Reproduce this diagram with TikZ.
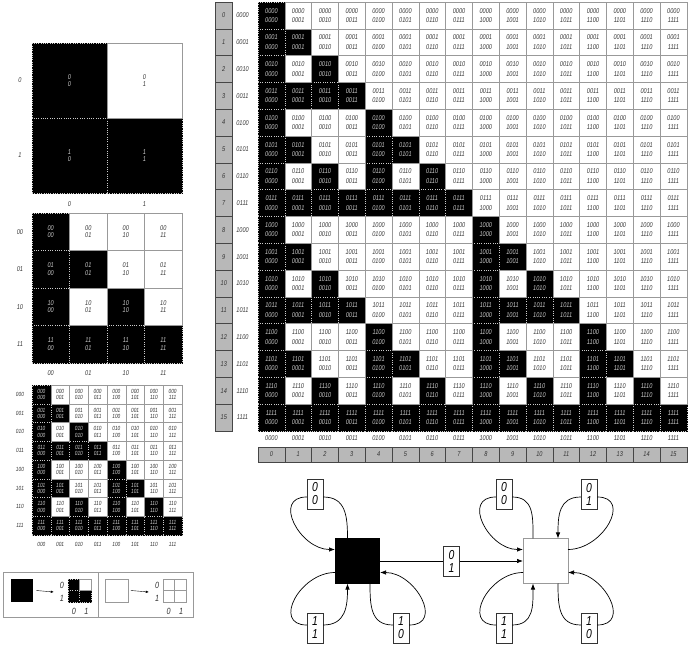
\documentclass[tikz,border=0pt]{standalone}
\usepackage{fontspec}
\setmainfont{Liberation Sans}
\newfontfamily\narrowsf[FakeStretch=0.8]{Liberation Sans}
\usetikzlibrary{calc}
\usetikzlibrary{arrows.meta}
\tikzset{>={Latex[length=6pt,width=4.5pt]}}
\definecolor{ontxt}{gray}{0.8}
\definecolor{offtxt}{gray}{0.2}
\definecolor{cellline}{gray}{0.6}
\definecolor{barfill}{gray}{0.72}
\tikzstyle{cell} = [rectangle, inner sep=0, outer sep=0, align=center]
\tikzstyle{blkcell} = [cell, fill=black, draw=black, postaction={draw=gray!40, dotted, line width=0.3pt}]
\tikzstyle{lbl} = [inner sep=0, text=offtxt]
\tikzstyle{graycell} = [rectangle, inner sep=0, outer sep=0, fill=barfill, draw=gray!55!black, text=offtxt, font=\narrowsf\itshape\fontsize{7}{7}\selectfont]
\tikzstyle{tag} = [rectangle, draw=black!80, fill=white, inner sep=0, minimum width=16pt, minimum height=30pt, align=center, font=\narrowsf\itshape\fontsize{13}{13}\selectfont]
\tikzstyle{state} = [rectangle, minimum size=45pt, inner sep=0, outer sep=0]
\tikzstyle{loop} = [line width=0.7pt]
\tikzstyle{small} = [font=\narrowsf\itshape\fontsize{9}{9}\selectfont, text=offtxt, inner sep=0]

% #1 name, #2 index/bits list, #3 cell size, #4 left, #5 top, #6 font, #7 row label x, #8 column label y
\newcommand{\bitgrid}[8]{
  % black cells first, dotted borders
  \foreach \r/\rs in {#2} {
    \foreach \c/\cs in {#2} {
      \pgfmathtruncatemacro{\isblk}{(mod(\c,2)<=mod(\r,2)) && (mod(floor(\c/2),2)<=mod(floor(\r/2),2)) && (mod(floor(\c/4),2)<=mod(floor(\r/4),2)) && (mod(floor(\c/8),2)<=mod(floor(\r/8),2))}
      \ifnum\isblk=1
        \node [blkcell, text=ontxt, minimum size=#3pt, font=#6] (#1-\r-\c) at ({#4+#3*(\c+0.5)}, {#5-#3*(\r+0.5)}) {\rs\\\cs};
      \fi
    }
  }
  % then white cells
  \foreach \r/\rs in {#2} {
    \foreach \c/\cs in {#2} {
      \pgfmathtruncatemacro{\isblk}{(mod(\c,2)<=mod(\r,2)) && (mod(floor(\c/2),2)<=mod(floor(\r/2),2)) && (mod(floor(\c/4),2)<=mod(floor(\r/4),2)) && (mod(floor(\c/8),2)<=mod(floor(\r/8),2))}
      \ifnum\isblk=0
        \node [cell, fill=white, draw=cellline, text=offtxt, minimum size=#3pt, font=#6] (#1-\r-\c) at ({#4+#3*(\c+0.5)}, {#5-#3*(\r+0.5)}) {\rs\\\cs};
      \fi
    }
  }
  % labels
  \foreach \r/\rs in {#2} {
    \node [lbl, font=#6] (#1-row-\r) at (#7, {#5-#3*(\r+0.5)}) {\rs};
    \node [lbl, font=#6] (#1-col-\r) at ({#4+#3*(\r+0.5)}, #8) {\rs};
  }
}

\begin{document}
\begin{tikzpicture}[x=1pt, y=1pt]
\useasboundingbox (0,0) rectangle (692,647);

% left column: 2x2, 4x4, 8x8
\bitgrid{one}{0/0,1/1}{75}{32}{604}{\narrowsf\itshape\fontsize{7}{7.5}\selectfont}{20}{443}
\bitgrid{two}{0/00,1/01,2/10,3/11}{37.5}{32}{434}{\narrowsf\itshape\fontsize{7}{7.5}\selectfont}{20}{274}
\bitgrid{three}{0/000,1/001,2/010,3/011,4/100,5/101,6/110,7/111}{18.75}{32}{262}{\narrowsf\itshape\fontsize{6}{6.2}\selectfont}{20}{103}

% big 16x16
\bitgrid{big}{0/0000,1/0001,2/0010,3/0011,4/0100,5/0101,6/0110,7/0111,8/1000,9/1001,10/1010,11/1011,12/1100,13/1101,14/1110,15/1111}{26.8}{258}{645}{\narrowsf\itshape\fontsize{7}{9.5}\selectfont}{242.5}{209}
\foreach \r in {0,...,15} {
  \node [graycell, minimum width=16.5pt, minimum height=26.8pt] (gc-\r) at (223.75, {645-26.8*(\r+0.5)}) {\r};
  \node [graycell, minimum width=26.8pt, minimum height=15pt] (gb-\r) at ({258+26.8*(\r+0.5)}, 192.5) {\r};
}

% legend
\node [draw=cellline, minimum width=95pt, minimum height=45pt, inner sep=0] (legL) at (50.5,52.5) {};
\node [draw=cellline, minimum width=95pt, minimum height=45pt, inner sep=0] (legR) at (145.5,52.5) {};
\node [cell, fill=black, minimum size=22.5pt] (lblk) at (22,56.5) {};
\node [blkcell, minimum size=11.5pt] (lq-a) at (73.75,62.25) {};
\node [blkcell, minimum size=11.5pt] (lq-c) at (73.75,50.75) {};
\node [blkcell, minimum size=11.5pt] (lq-d) at (85.25,50.75) {};
\node [cell, fill=white, draw=cellline, minimum size=11.5pt] (lq-b) at (85.25,62.25) {};
\node [small] (lq-r0) at (62,61.3) {0};
\node [small] (lq-r1) at (62,48.7) {1};
\node [small] (lq-c0) at (74,36) {0};
\node [small] (lq-c1) at (86.5,36) {1};
\draw [-{Latex[length=3pt,width=2.5pt]}, thin] (lblk.east) ++(3pt,0) -- ($(lq-r0.west)!0.5!(lq-r1.west)+(-6pt,0)$);
\node [cell, fill=white, draw=cellline, minimum size=22.5pt] (lwht) at (116.5,56.5) {};
\foreach \n/\x/\y in {a/168.75/62.25, b/180.25/62.25, c/168.75/50.75, d/180.25/50.75}
  \node [cell, fill=white, draw=cellline, minimum size=11.5pt] (lw-\n) at (\x,\y) {};
\node [small] (lw-r0) at (157,61.3) {0};
\node [small] (lw-r1) at (157,48.7) {1};
\node [small] (lw-c0) at (168.5,36) {0};
\node [small] (lw-c1) at (181,36) {1};
\draw [-{Latex[length=3pt,width=2.5pt]}, thin] (lwht.east) ++(3pt,0) -- ($(lw-r0.west)!0.5!(lw-r1.west)+(-6pt,0)$);

% state diagram
\node [state, fill=black] (blk) at (357.5,86) {};
\node [state, fill=white, draw=cellline] (wht) at (545.5,86) {};
\node [tag] (b00) at (315,153) {0\\0};
\node [tag] (b11) at (315,19) {1\\1};
\node [tag] (b10) at (401,19) {1\\0};
\node [tag] (bmid) at (451.5,86) {0\\1};
\node [tag] (w00) at (504,153) {0\\0};
\node [tag] (w01) at (589,153) {0\\1};
\node [tag] (w11) at (504,19) {1\\1};
\node [tag] (w10) at (589,19) {1\\0};

\draw [loop] ([xshift=-10pt]blk.north) to[out=90, in=0, looseness=1.2] ([yshift=-3pt]b00.east);
\draw [loop, ->] ([yshift=-3pt]b00.west) to[out=180, in=180, looseness=1.5] ([yshift=11.5pt]blk.west);
\draw [loop] ([yshift=-11.5pt]blk.west) to[out=180, in=180, looseness=1.5] ([yshift=3pt]b11.west);
\draw [loop, ->] ([yshift=3pt]b11.east) to[out=0, in=-90, looseness=1.2] ([xshift=-10pt]blk.south);
\draw [loop] ([xshift=12.5pt]blk.south) to[out=-90, in=180, looseness=1.2] ([yshift=3pt]b10.west);
\draw [loop, ->] ([yshift=3pt]b10.east) to[out=0, in=0, looseness=1.5] ([yshift=-11.5pt]blk.east);
\draw [loop] (blk.east) -- (bmid.west);
\draw [loop, ->] (bmid.east) -- (wht.west);

\draw [loop] ([xshift=-12.5pt]wht.north) to[out=90, in=0, looseness=1.2] ([yshift=-3pt]w00.east);
\draw [loop, ->] ([yshift=-3pt]w00.west) to[out=180, in=180, looseness=1.5] ([yshift=11.5pt]wht.west);
\draw [loop] ([yshift=11.5pt]wht.east) to[out=0, in=0, looseness=1.5] ([yshift=-3pt]w01.east);
\draw [loop, ->] ([yshift=-3pt]w01.west) to[out=180, in=90, looseness=1.2] ([xshift=12.5pt]wht.north);
\draw [loop] ([yshift=-11.5pt]wht.west) to[out=180, in=180, looseness=1.5] ([yshift=3pt]w11.west);
\draw [loop, ->] ([yshift=3pt]w11.east) to[out=0, in=-90, looseness=1.2] ([xshift=-12.5pt]wht.south);
\draw [loop] ([xshift=12.5pt]wht.south) to[out=-90, in=180, looseness=1.2] ([yshift=3pt]w10.west);
\draw [loop, ->] ([yshift=3pt]w10.east) to[out=0, in=0, looseness=1.5] ([yshift=-11.5pt]wht.east);
\end{tikzpicture}
\end{document}
